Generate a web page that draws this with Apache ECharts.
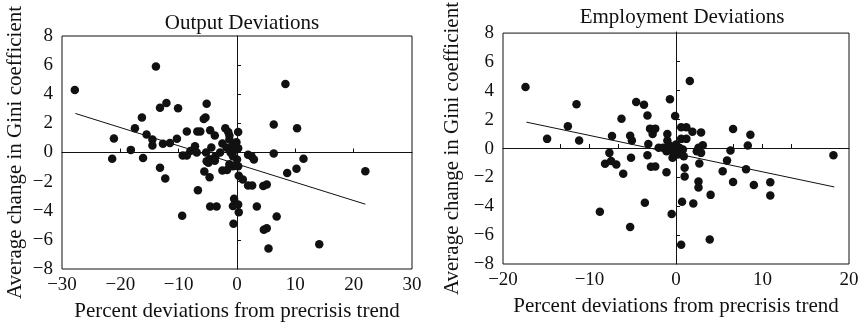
<!DOCTYPE html>
<html>
<head>
<meta charset="utf-8">
<title>ECharts</title>
<script src="https://cdn.jsdelivr.net/npm/echarts@6/dist/echarts.min.js"></script>
</head>
<body style="margin:0; background:#fff;">

<div id="main" style="width: 864px; height: 332px;"></div>

<script type="text/javascript">
// output deviations panel: x = percent deviation, y = change in Gini
var outputX = [-27.8, -13.9, 8.3, -13.2, -12.1, -10.1, -5.2, -16.3, -5.7, -5.4,
    -17.5, -21.1, -15.5, -14.5, -14.5, -18.2, -12.7, -11.5, -10.3, -8.6,
    -6.8, -6.3, -4.6, -3.8, -2.0, -7.2, -8.0, -9.3, -8.6, -6.9,
    -4.4, -5.3, -2.9, -16.1, -21.4, -13.2, -12.3, -6.7, -9.4, -5.6,
    -4.7, -4.9, -4.7, -3.8, -2.5, -1.7, -1.3, -0.7, 0.0, 0.2,
    0.3, 1.0, 1.9, 2.6, 4.5, 5.1, 1.9, 2.5, 2.9, 6.3,
    11.4, 8.6, 10.2, 22.0, 6.3, 10.3, -0.5, -0.7, 0.2, 0.3,
    -0.6, -4.6, -3.5, 3.4, 6.8, 4.6, 5.1, 5.4, 14.1, -0.1,
    0.2, -0.1, 0.2, -1.5, -1.3, -1.3, -2.5, -1.8, -0.8, -1.1,
    -5.2, -3.7, -0.7];
var outputY = [4.3, 5.9, 4.7, 3.07, 3.4, 3.04, 3.34, 2.4, 2.3, 2.4,
    1.67, 0.96, 1.24, 0.9, 0.48, 0.18, 0.6, 0.66, 0.94, 1.44,
    1.44, 1.44, 1.53, 1.17, 1.67, 0.43, 0.1, -0.2, -0.2, 0.0,
    0.34, 0.0, 0.0, -0.37, -0.43, -1.05, -1.78, -2.6, -4.35, -1.3,
    -1.7, -0.7, -0.48, -0.57, -1.24, -1.2, -0.8, -0.94, -0.48, -0.94,
    -1.6, -1.85, -2.26, -2.26, -2.3, -2.2, -0.16, -0.25, -0.48, -0.07,
    -0.43, -1.4, -1.12, -1.28, 1.92, 1.67, -3.18, -3.68, -3.57, -4.1,
    -4.9, -3.7, -3.7, -3.7, -4.4, -5.3, -5.2, -6.6, -6.3, 0.2,
    0.3, 0.7, 1.4, 1.4, 1.17, 0.9, 0.62, 0.32, 0.43, 0.0,
    -0.6, -0.25, -0.25];
var outputTrendX = [-27.7, 22.0];
var outputTrendY = [2.68, -3.55];

// employment deviations panel
var employX = [-17.4, -11.5, -12.5, -14.9, -11.2, -7.4, -6.3, -4.6, -3.7, -3.3,
    -0.7, 1.6, -0.1, -5.3, -5.1, -3.2, -3.0, -2.4, -2.7, -1.0,
    -1.0, -2.0, -1.5, -0.8, -0.6, -0.4, 0.6, 1.2, 0.6, 1.2,
    1.9, 2.9, 0.8, 0.9, 2.4, 2.9, 3.1, 2.6, -7.7, -8.2,
    -7.5, -6.9, -6.1, -5.2, -3.3, -2.9, -2.4, -1.1, 1.0, 1.0,
    2.7, 2.6, 2.6, -3.6, -8.8, -5.3, -0.5, 0.7, 2.0, 4.0,
    3.9, 0.6, 6.6, 8.6, 8.3, 6.3, 5.9, 5.4, 6.6, 8.1,
    9.0, 10.9, 10.9, 18.2, 0.4, 0.2, -1.1, -0.2, 0.0];
var employY = [4.27, 3.07, 1.54, 0.67, 0.55, 0.87, 2.06, 3.23, 3.03, 2.29,
    3.42, 4.68, 2.25, 0.89, 0.55, 0.32, 1.38, 1.38, 1.0, 1.0,
    0.55, 0.05, 0.05, 0.23, -0.14, -0.64, 1.47, 1.47, 0.67, 0.67,
    1.17, 1.12, -0.07, -0.53, -0.18, -0.3, 0.23, 0.05, -0.3, -1.06,
    -0.87, -1.1, -1.74, -0.64, -0.46, -1.26, -1.24, -1.65, -1.33, -1.93,
    -1.03, -2.29, -2.7, -3.76, -4.38, -5.44, -4.54, -3.69, -3.81, -3.21,
    -6.31, -6.67, 1.35, 0.96, 0.21, -0.14, -0.83, -1.58, -2.32, -1.44,
    -2.52, -2.34, -3.26, -0.46, 0.05, -0.41, -0.18, -0.3, 0.28];
var employTrendX = [-17.3, 18.3];
var employTrendY = [1.83, -2.66];

// ticks drawn on the zero lines inside the boxes
var outputZeroXTicks = [-20, -10, 10, 20];
var employZeroXTicks = [-40 / 3, -10, -20 / 3, -10 / 3, 10 / 3, 20 / 3, 10, 40 / 3];
var zeroYTicks = [-6, -4, -2, 2, 4, 6];

function pairs(xs, ys) {
    var out = [];
    for (var i = 0; i < xs.length; i++) out.push([xs[i], ys[i]]);
    return out;
}

var FONT = 'Liberation Serif';
var INK = '#111';

function minus(v) {
    return String(v).replace('-', '\u2212');
}

function boxX(idx, min, max, step) {
    return {
        gridIndex: idx, type: 'value', min: min, max: max, interval: step,
        name: 'Percent deviations from precrisis trend',
        nameLocation: 'middle', nameGap: 32,
        nameTextStyle: { fontFamily: FONT, fontSize: 21, color: INK },
        axisLine: { show: false }, axisTick: { show: false }, splitLine: { show: false },
        axisLabel: { fontFamily: FONT, fontSize: 19, color: INK, margin: 7, formatter: minus }
    };
}
function boxY(idx, gap) {
    return {
        gridIndex: idx, type: 'value', min: -8, max: 8, interval: 2,
        name: 'Average change in Gini coefficient',
        nameLocation: 'middle', nameGap: gap,
        nameTextStyle: { fontFamily: FONT, fontSize: 21, color: INK },
        axisLine: { show: false }, axisTick: { show: false }, splitLine: { show: false },
        axisLabel: { fontFamily: FONT, fontSize: 19, color: INK, margin: 9, formatter: minus }
    };
}
function zeroX(idx, min, max, ticks) {
    return {
        gridIndex: idx, type: 'value', min: min, max: max, position: 'bottom',
        axisLine: { show: true, onZero: true, lineStyle: { color: INK, width: 1 } },
        axisTick: { show: true, inside: true, length: 4, customValues: ticks, lineStyle: { color: INK } },
        axisLabel: { show: false }, splitLine: { show: false }
    };
}
function zeroY(idx, ticks) {
    return {
        gridIndex: idx, type: 'value', min: -8, max: 8, position: 'left',
        axisLine: { show: true, onZero: true, lineStyle: { color: INK, width: 1 } },
        axisTick: { show: true, inside: true, length: 4, customValues: ticks, lineStyle: { color: INK } },
        axisLabel: { show: false }, splitLine: { show: false }
    };
}

var myChart = echarts.init(document.getElementById('main'));

var option = {
    backgroundColor: '#fff',
    animation: false,
    title: [
        { text: 'Output Deviations', left: 237, top: 8, textAlign: 'center',
          textStyle: { fontFamily: FONT, fontSize: 21, fontWeight: 'normal', color: INK } },
        { text: 'Employment Deviations', left: 677, top: 2, textAlign: 'center',
          textStyle: { fontFamily: FONT, fontSize: 21, fontWeight: 'normal', color: INK } }
    ],
    grid: [
        { left: 62, top: 36, width: 350, height: 233, show: true, borderColor: INK, borderWidth: 1 },
        { left: 62, top: 36, width: 350, height: 233 },
        { left: 503, top: 32, width: 346, height: 232, show: true, borderColor: INK, borderWidth: 1 },
        { left: 503, top: 32, width: 346, height: 232 }
    ],
    xAxis: [
        boxX(0, -30, 30, 10),
        zeroX(1, -30, 30, outputZeroXTicks),
        boxX(2, -20, 20, 10),
        zeroX(3, -20, 20, employZeroXTicks)
    ],
    yAxis: [
        boxY(0, 36),
        zeroY(1, zeroYTicks),
        boxY(2, 40),
        zeroY(3, zeroYTicks)
    ],
    series: [
        { type: 'scatter', xAxisIndex: 0, yAxisIndex: 0, symbolSize: 8.5,
          itemStyle: { color: INK, opacity: 1 }, data: pairs(outputX, outputY) },
        { type: 'line', xAxisIndex: 0, yAxisIndex: 0, symbol: 'none',
          lineStyle: { color: INK, width: 1 }, data: pairs(outputTrendX, outputTrendY) },
        { type: 'scatter', xAxisIndex: 2, yAxisIndex: 2, symbolSize: 8.5,
          itemStyle: { color: INK, opacity: 1 }, data: pairs(employX, employY) },
        { type: 'line', xAxisIndex: 2, yAxisIndex: 2, symbol: 'none',
          lineStyle: { color: INK, width: 1 }, data: pairs(employTrendX, employTrendY) }
    ]
};

myChart.setOption(option);
</script>
</body>
</html>
